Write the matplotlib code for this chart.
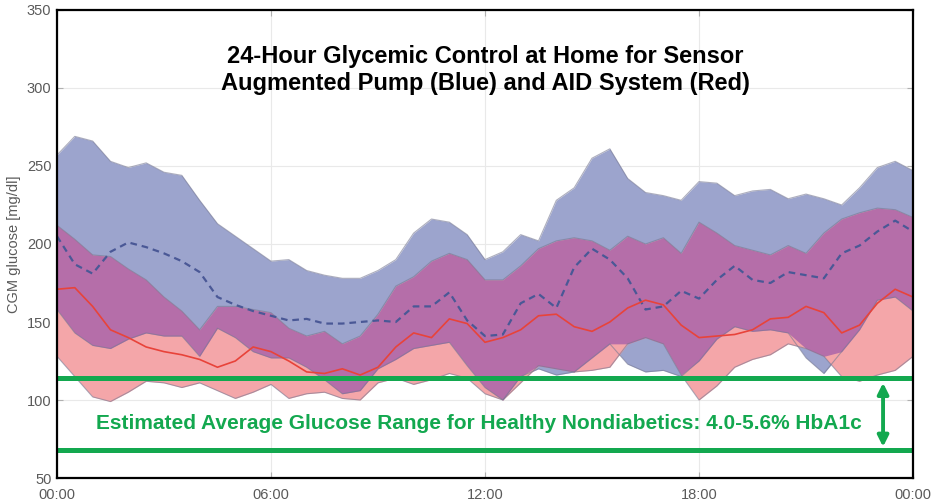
import numpy as np
import matplotlib
matplotlib.use('Agg')
import matplotlib.pyplot as plt

plt.rcParams['font.family'] = ['Liberation Sans', 'DejaVu Sans']

# half-hour samples over the day (hours since midnight)
hours = np.arange(0, 24.5, 0.5)

# sensor augmented pump (blue): band bounds and median, mg/dl
sap_upper = [257, 269, 266, 253, 249, 252, 246, 244, 228, 213,
             205, 197, 189, 190, 183, 180, 178, 178, 183, 190,
             207, 216, 214, 206, 190, 195, 206, 202, 228, 236,
             255, 261, 242, 233, 231, 228, 240, 239, 231, 234,
             235, 229, 232, 229, 225, 236, 249, 253, 247]
sap_median = [205, 187, 181, 195, 201, 198, 194, 189, 182, 166,
              161, 157, 154, 151, 152, 149, 149, 150, 151, 150,
              160, 160, 169, 151, 141, 142, 162, 168, 159, 185,
              197, 190, 178, 158, 160, 170, 165, 177, 186, 177,
              175, 182, 180, 178, 194, 199, 208, 215, 208]
sap_lower = [158, 143, 135, 133, 139, 143, 141, 141, 128, 146,
             140, 131, 127, 127, 121, 113, 104, 106, 120, 126,
             133, 135, 137, 122, 108, 100, 115, 120, 116, 118,
             127, 136, 123, 118, 119, 115, 125, 139, 147, 144,
             145, 143, 127, 117, 131, 145, 164, 166, 157]

# AID system (red)
aid_upper = [212, 203, 193, 192, 184, 177, 166, 157, 145, 160,
             160, 158, 156, 146, 141, 144, 136, 141, 155, 173,
             179, 189, 194, 190, 177, 177, 186, 197, 202, 204,
             202, 196, 205, 200, 204, 194, 214, 207, 199, 196,
             193, 199, 194, 207, 216, 220, 223, 222, 217]
aid_median = [171, 172, 160, 145, 140, 134, 131, 129, 126, 121,
              125, 134, 131, 125, 118, 117, 120, 116, 121, 134,
              143, 140, 152, 149, 137, 140, 145, 154, 155, 147,
              144, 150, 159, 164, 161, 148, 140, 141, 142, 145,
              152, 153, 160, 156, 143, 148, 162, 171, 166]
aid_lower = [128, 115, 102, 99, 105, 112, 111, 108, 111, 106,
             101, 105, 110, 101, 104, 105, 101, 100, 111, 114,
             110, 113, 117, 114, 104, 100, 111, 122, 120, 118,
             119, 121, 136, 140, 136, 116, 100, 109, 121, 126,
             129, 136, 133, 128, 115, 112, 116, 119, 128]

# eAG range for HbA1c 4.0-5.6 %
eag_low = 68
eag_high = 114

time_ticks = [0, 6, 12, 18, 24]
time_labels = ['00:00', '06:00', '12:00', '18:00', '00:00']
glucose_ticks = [50, 100, 150, 200, 250, 300, 350]

blue_fill = '#9ca4cd'
red_fill = '#f4a6a9'
both_fill = '#b56ea9'
green = '#13a84f'

bu, bl = np.array(sap_upper), np.array(sap_lower)
ru, rl = np.array(aid_upper), np.array(aid_lower)
lo = np.maximum(bl, rl)
hi = np.minimum(bu, ru)

fig = plt.figure(figsize=(9.4, 5.0), dpi=100)
ax = fig.add_axes([0.0606, 0.044, 0.9107, 0.936])

ax.fill_between(hours, bl, bu, color=blue_fill, lw=0)
ax.fill_between(hours, rl, ru, color=red_fill, lw=0)
ax.fill_between(hours, lo, hi, where=hi > lo, interpolate=True,
                color=both_fill, lw=0)
for edge in (bu, bl, ru, rl):
    ax.plot(hours, edge, color='#777993', lw=0.8, alpha=0.6)

ax.plot(hours, sap_median, color='#4a5896', lw=1.6, dashes=(3, 2.2))
ax.plot(hours, aid_median, color='#e8433a', lw=1.2)

ax.axhline(eag_high, color=green, lw=3.6)
ax.axhline(eag_low, color=green, lw=3.6)
ax.annotate('', xy=(23.16, eag_low + 2), xytext=(23.16, eag_high - 3),
            arrowprops=dict(arrowstyle='<|-|>', color=green, lw=2.8,
                            mutation_scale=16, shrinkA=0, shrinkB=0))
ax.text(11.83, 85, 'Estimated Average Glucose Range for Healthy Nondiabetics: 4.0-5.6% HbA1c',
        color=green, fontsize=15, fontweight='bold', ha='center', va='center')

ax.text(0.5, 0.872, '24-Hour Glycemic Control at Home for Sensor\n'
        'Augmented Pump (Blue) and AID System (Red)',
        transform=ax.transAxes, ha='center', va='center',
        fontsize=17, fontweight='bold', color='black', linespacing=1.2)

ax.set_xlim(0, 24)
ax.set_ylim(50, 350)
ax.set_xticks(time_ticks)
ax.set_xticklabels(time_labels)
ax.set_yticks(glucose_ticks)
ax.set_axisbelow(True)
ax.grid(True, color='#e9e9e9', lw=0.8)
ax.tick_params(direction='in', length=4, color='#b0b0b0', top=True, right=True,
               labelsize=10.5, labelcolor='#5a5a5a')
ax.tick_params(axis='x', pad=7)
ax.tick_params(axis='y', pad=4)
ax.set_ylabel('CGM glucose [mg/dl]', color='#5a5a5a', fontsize=10.5, labelpad=4)
for s in ax.spines.values():
    s.set_color('black')
    s.set_linewidth(1.6)
    s.set_zorder(5)

plt.savefig('out.png', dpi=100)
